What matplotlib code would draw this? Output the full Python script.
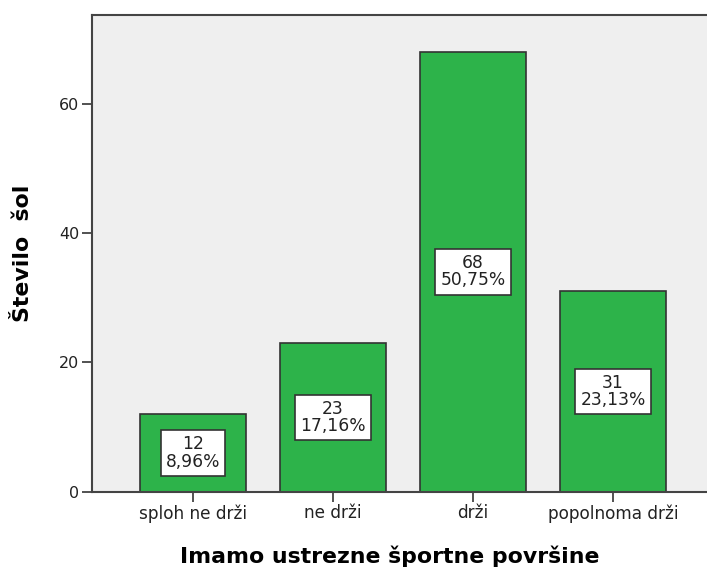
import matplotlib.pyplot as plt
import numpy as np

# data
categories = ["sploh ne drži", "ne drži", "drži", "popolnoma drži"]
counts = [12, 23, 68, 31]
percents = ["8,96%", "17,16%", "50,75%", "23,13%"]

plt.rcParams['font.family'] = ['DejaVu Sans']

fig = plt.figure(figsize=(7.07, 5.72), dpi=100)
ax = fig.add_axes([0.130, 0.140, 0.870, 0.834])
ax.set_facecolor('#efefef')

x = np.arange(len(categories))
ax.bar(x, counts, width=0.757, color='#2db34a', edgecolor='#333333',
       linewidth=1.2, zorder=2)

# value / percent boxes in the middle of each bar
for xi, c, p in zip(x, counts, percents):
    ax.text(xi, c / 2, f"{c}\n{p}", ha='center', va='center',
            fontsize=12.3, color='#222222', linespacing=0.95, zorder=3,
            bbox=dict(boxstyle='square,pad=0.3', facecolor='white',
                      edgecolor='#333333', linewidth=1.2))

ax.set_xlim(-0.721, 3.671)
ax.set_ylim(0, 73.7)
ax.set_yticks([0, 20, 40, 60])
ax.set_xticks(x)
ax.set_xticklabels(categories, fontsize=12.2)
ax.tick_params(axis='y', labelsize=11.5)
ax.tick_params(axis='both', length=7, width=1.2,
               color='#333333', labelcolor='#222222', pad=2)

for side in ['left', 'bottom', 'top']:
    ax.spines[side].set_color('#444444')
    ax.spines[side].set_linewidth(1.5)
ax.spines['right'].set_visible(False)

ax.set_ylabel("Število  šol", fontsize=15.8, fontweight='bold')
ax.yaxis.set_label_coords(-0.095, 0.5)
ax.set_xlabel("Imamo ustrezne športne površine", fontsize=15.8,
              fontweight='bold')
ax.xaxis.set_label_coords(0.485, -0.112)

fig.savefig('out.png', dpi=100)
